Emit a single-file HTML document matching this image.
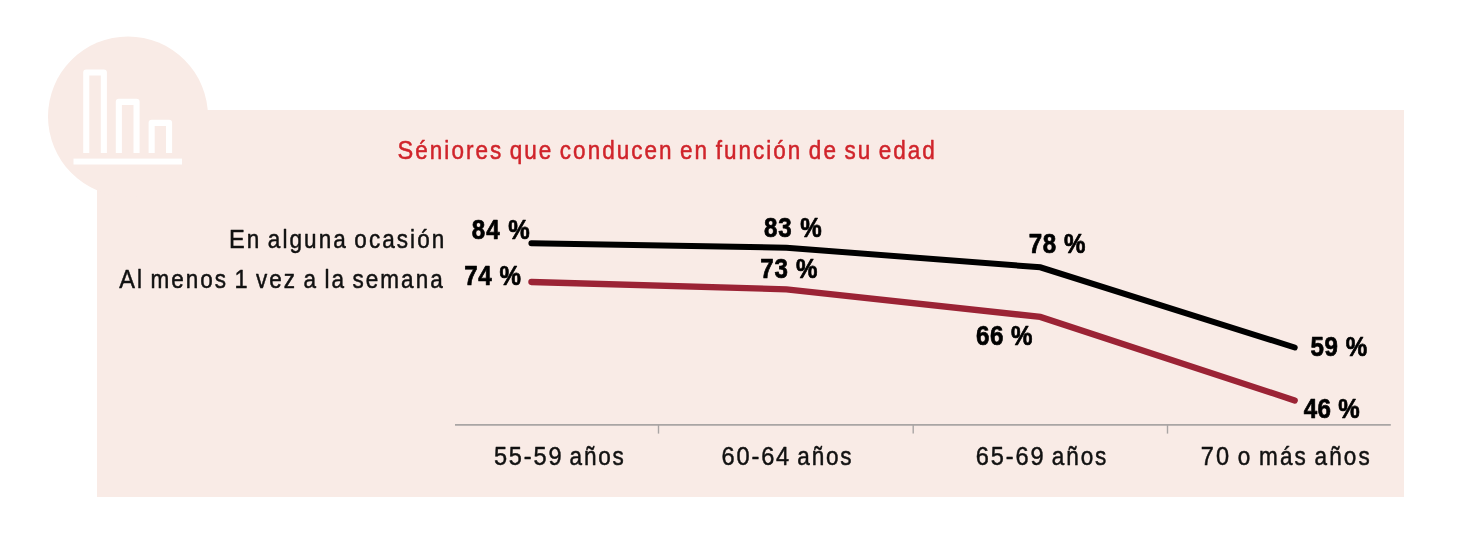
<!DOCTYPE html>
<html>
<head>
<meta charset="utf-8">
<title>Séniores que conducen en función de su edad</title>
<style>
  html, body { margin: 0; padding: 0; background: #ffffff; }
  body { width: 1462px; height: 542px; overflow: hidden; font-family: "Liberation Sans", sans-serif; }
  svg { display: block; will-change: transform; transform: translateZ(0); }
  text { font-family: "Liberation Sans", sans-serif; white-space: pre; stroke-linejoin: round; }
  .lbl { font-size: 25.0px; fill: #111111; stroke: #111111; stroke-width: 0.5px; }
  .ttl { font-size: 25.0px; fill: #d0242b; stroke: #d0242b; stroke-width: 0.5px; }
  .val { font-size: 26.8px; font-weight: bold; fill: #000000; stroke: #000000; stroke-width: 0.7px; }
</style>
</head>
<body>
<svg width="1462" height="542" viewBox="0 0 1462 542">
  <!-- background panel + circle -->
  <rect x="97" y="110" width="1307" height="387" fill="#f9ebe6"/>
  <circle cx="128" cy="116.5" r="80" fill="#f9ebe6"/>

  <!-- bar chart icon -->
  <g fill="none" stroke="#ffffff" stroke-width="6.1" stroke-linejoin="round">
    <path d="M86.25 153 V72.55 H103.85 V153"/>
    <path d="M118.85 153 V101.85 H136.55 V153"/>
    <path d="M151.65 153 V122.85 H169.05 V153"/>
  </g>
  <rect x="73.5" y="158.6" width="108.5" height="5.9" fill="#ffffff"/>

  <!-- lines -->
  <g style="display:inline">
  <polyline points="531.4,243.3 786.5,247.7 1040.3,267.3 1294.7,347.5" fill="none" stroke="#000000" stroke-width="6" stroke-linecap="round" stroke-linejoin="miter"/>
  <polyline points="531.4,282.0 786.5,289.3 1040.3,316.9 1294.7,400.4" fill="none" stroke="#9b2335" stroke-width="6.3" stroke-linecap="round" stroke-linejoin="miter"/>
  </g>

  <!-- axis -->
  <g stroke="#a9a5a4" stroke-width="1.4" fill="none" style="display:inline">
    <line x1="455" y1="424.9" x2="1390.8" y2="424.9" stroke-width="1.7"/>
    <line x1="658.5" y1="424.9" x2="658.5" y2="433.6"/>
    <line x1="913.2" y1="424.9" x2="913.2" y2="433.6"/>
    <line x1="1167.5" y1="424.9" x2="1167.5" y2="433.6"/>
  </g>

  <!-- title, series labels, values, axis labels -->
  <text class="ttl" transform="translate(397.52 158.70) scale(0.9 1)" letter-spacing="2.259" word-spacing="-2.0"><tspan font-size="26.2px">S</tspan>éniores que conducen en función de su edad</text>
  <text class="lbl" transform="translate(228.95 248.00) scale(0.9 1)" letter-spacing="2.304" word-spacing="-2.0"><tspan font-size="26.2px">E</tspan>n alguna ocasión</text>
  <text class="lbl" transform="translate(119.20 288.30) scale(0.9 1)" letter-spacing="2.244" word-spacing="-2.0"><tspan font-size="26.2px">A</tspan>l menos <tspan font-size="26.2px">1</tspan> vez a la semana</text>
  <text class="lbl" transform="translate(493.92 465.30) scale(0.9 1)" letter-spacing="2.028" word-spacing="-2.0"><tspan font-size="26.2px">55-59</tspan> años</text>
  <text class="lbl" transform="translate(721.58 465.30) scale(0.9 1)" letter-spacing="2.036" word-spacing="-2.0"><tspan font-size="26.2px">60-64</tspan> años</text>
  <text class="lbl" transform="translate(975.70 465.30) scale(0.9 1)" letter-spacing="2.120" word-spacing="-2.0"><tspan font-size="26.2px">65-69</tspan> años</text>
  <text class="lbl" transform="translate(1200.70 465.30) scale(0.9 1)" letter-spacing="2.379" word-spacing="-2.0"><tspan font-size="26.2px">70</tspan> o más años</text>
  <text class="val" transform="translate(471.87 238.60) scale(0.9 1)" letter-spacing="1.106">84 %</text>
  <text class="val" transform="translate(464.32 284.50) scale(0.9 1)" letter-spacing="0.615">74 %</text>
  <text class="val" transform="translate(764.10 237.40) scale(0.9 1)" letter-spacing="0.957">83 %</text>
  <text class="val" transform="translate(760.33 277.60) scale(0.9 1)" letter-spacing="0.784">73 %</text>
  <text class="val" transform="translate(1028.87 252.60) scale(0.9 1)" letter-spacing="0.579">78 %</text>
  <text class="val" transform="translate(976.05 345.40) scale(0.9 1)" letter-spacing="0.488">66 %</text>
  <text class="val" transform="translate(1310.38 356.20) scale(0.9 1)" letter-spacing="0.691">59 %</text>
  <text class="val" transform="translate(1303.69 417.60) scale(0.9 1)" letter-spacing="0.429">46 %</text>
</svg>
</body>
</html>
